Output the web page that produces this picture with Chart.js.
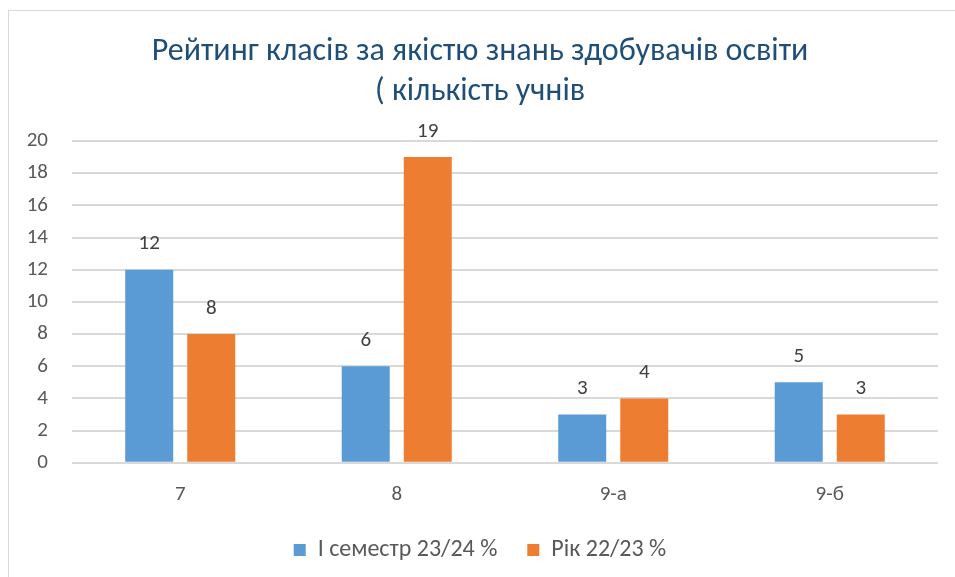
<!DOCTYPE html>
<html>
<head>
<meta charset="utf-8">
<script src="https://cdn.jsdelivr.net/npm/chart.js@4"></script>
<style>
  html, body { margin: 0; padding: 0; background: #fff; overflow: hidden; }
  #wrap { position: relative; width: 955px; height: 577px; }
  #frame { position: absolute; left: 8px; top: 10px; width: 1000px; height: 600px;
           border-left: 1px solid #d9d9d9; border-top: 1px solid #d9d9d9; }
  canvas { position: absolute; left: 0; top: 0; }
</style>
</head>
<body>
<div id="wrap">
  <div id="frame"></div>
  <canvas id="chart" width="955" height="577"></canvas>
</div>
<script>
const titleLines = ['Рейтинг класів за якістю знань здобувачів освіти', '( кількість учнів'];
const classes = ['7', '8', '9-а', '9-б'];
const semesterLabel = 'І семестр 23/24 %';
const semesterValues = [12, 6, 3, 5];
const yearLabel = 'Рік 22/23 %';
const yearValues = [8, 19, 4, 3];

const fontFamily = 'Carlito, "Open Sans", "Liberation Sans", sans-serif';

// draws the value above every bar
const barValues = {
  id: 'barValues',
  afterDatasetsDraw(chart) {
    const ctx = chart.ctx;
    ctx.save();
    ctx.font = '21px ' + fontFamily;
    ctx.fillStyle = '#404040';
    ctx.textAlign = 'center';
    ctx.textBaseline = 'bottom';
    chart.data.datasets.forEach((ds, i) => {
      chart.getDatasetMeta(i).data.forEach((bar, j) => {
        ctx.fillText(ds.data[j], bar.x, bar.y - 15);
      });
    });
    ctx.restore();
  }
};

new Chart(document.getElementById('chart'), {
  type: 'bar',
  data: {
    labels: classes,
    datasets: [
      { label: semesterLabel, data: semesterValues, backgroundColor: '#5B9BD5',
        categoryPercentage: 0.573, barPercentage: 0.774 },
      { label: yearLabel, data: yearValues, backgroundColor: '#ED7D31',
        categoryPercentage: 0.573, barPercentage: 0.774 }
    ]
  },
  options: {
    responsive: false,
    animation: false,
    layout: { padding: { left: 22, right: 17, top: 32, bottom: 5 } },
    plugins: {
      title: {
        display: true,
        text: titleLines,
        color: '#1F4E79',
        font: { family: fontFamily, size: 32, weight: 'normal', lineHeight: 1.25 },
        padding: { top: 0, bottom: 29 }
      },
      legend: {
        position: 'bottom',
        labels: {
          color: '#595959',
          font: { family: fontFamily, size: 24 },
          boxWidth: 12, boxHeight: 12, padding: 30
        }
      },
      tooltip: { enabled: false }
    },
    scales: {
      x: {
        grid: { display: false },
        border: { display: false },
        ticks: { color: '#595959', font: { family: fontFamily, size: 21 }, padding: 11 },
        afterFit(scale) { scale.height -= 10; }
      },
      y: {
        min: 0, max: 20,
        ticks: { stepSize: 2, color: '#595959', font: { family: fontFamily, size: 21 }, padding: 24 },
        grid: { color: '#d9d9d9', lineWidth: 2, drawTicks: false },
        border: { display: false },
        afterFit(scale) { scale.width = 50; }
      }
    }
  },
  plugins: [barValues]
});
</script>
</body>
</html>
